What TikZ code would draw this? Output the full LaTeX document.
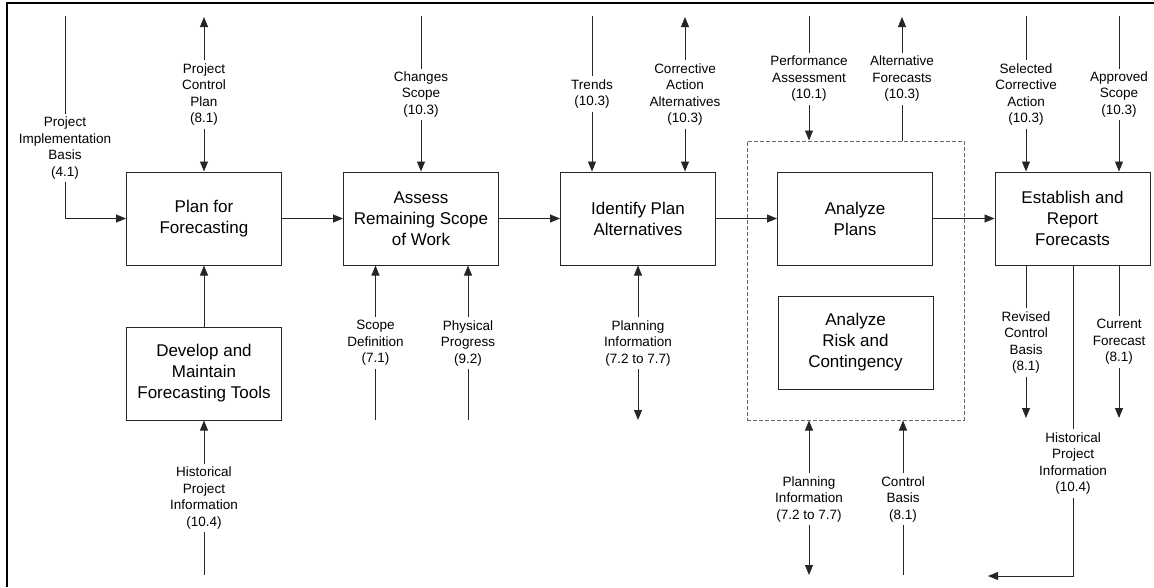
\documentclass[tikz,border=0pt]{standalone}
\usepackage{fontspec}
\setmainfont{Liberation Sans}
\usetikzlibrary{arrows.meta}
\begin{document}
\begin{tikzpicture}[x=1pt,y=-1pt,
  proc/.style={draw=black!85,line width=1pt,fill=white,align=center,
    minimum width=155pt,minimum height=93pt,inner sep=0pt,
    font=\fontsize{17}{21}\selectfont},
  lbl/.style={align=center,inner sep=3pt,font=\fontsize{13.5}{16.5}\selectfont},
  flow/.style={draw=black!85,line width=0.9pt},
  arr/.style={flow,-{Triangle[length=10pt,width=8pt]}},
  darr/.style={flow,{Triangle[length=10pt,width=8pt]}-{Triangle[length=10pt,width=8pt]}},
  grpbox/.style={draw=black!60,line width=1pt,dash pattern=on 4pt off 2pt,
    minimum width=217pt,minimum height=279pt,inner sep=0pt}]
\useasboundingbox (0,0) rectangle (1154,587);
% frame (top and left edges)
\draw[line width=1.6pt] (7,587) -- (7,3) -- (1154,3);

% dashed group around the two analysis steps
\node[grpbox] (grp) at (855.5,280.5) {};

% process boxes
\node[proc] (plan)  at (204,218.5)   {Plan for\\Forecasting};
\node[proc] (asses) at (421,218.5)   {Assess\\Remaining Scope\\of Work};
\node[proc] (ident) at (638,218.5)   {Identify Plan\\Alternatives};
\node[proc] (ap)    at (855,218.5)   {Analyze\\Plans};
\node[proc] (est)   at (1072.5,218.5){Establish and\\Report\\Forecasts};
\node[proc] (dev)   at (204,373.5)   {Develop and\\Maintain\\Forecasting Tools};
\node[proc] (risk)  at (855.5,342.5) {Analyze\\Risk and\\Contingency};

% main flow
\draw[arr] (plan.east) -- (asses.west);
\draw[arr] (asses.east) -- (ident.west);
\draw[arr] (ident.east) -- (ap.west);
\draw[arr] (ap.east) -- (est.west);
\draw[arr] (dev.north) -- (plan.south);

% labels
\node[lbl] (pib) at (65,148)    {Project\\Implementation\\Basis\\(4.1)};
\node[lbl] (pcp) at (204,94.5)  {Project\\Control\\Plan\\(8.1)};
\node[lbl] (chs) at (421,94.5)  {Changes\\Scope\\(10.3)};
\node[lbl] (trd) at (592,94)    {Trends\\(10.3)};
\node[lbl] (caa) at (685,94.5)  {Corrective\\Action\\Alternatives\\(10.3)};
\node[lbl] (pfa) at (809,79)    {Performance\\Assessment\\(10.1)};
\node[lbl] (alf) at (902,79)    {Alternative\\Forecasts\\(10.3)};
\node[lbl] (sca) at (1026,94.5) {Selected\\Corrective\\Action\\(10.3)};
\node[lbl] (aps) at (1119,94.5) {Approved\\Scope\\(10.3)};
\node[lbl] (scd) at (375.5,343) {Scope\\Definition\\(7.1)};
\node[lbl] (php) at (468,343)   {Physical\\Progress\\(9.2)};
\node[lbl] (pim) at (638,343)   {Planning\\Information\\(7.2 to 7.7)};
\node[lbl] (hpl) at (204,498)   {Historical\\Project\\Information\\(10.4)};
\node[lbl] (rcb) at (1026,342.5){Revised\\Control\\Basis\\(8.1)};
\node[lbl] (cfc) at (1119,342)  {Current\\Forecast\\(8.1)};
\node[lbl] (hpr) at (1073,463.5){Historical\\Project\\Information\\(10.4)};
\node[lbl] (pib2) at (809,499)  {Planning\\Information\\(7.2 to 7.7)};
\node[lbl] (ctb) at (903,499)   {Control\\Basis\\(8.1)};

% free ends of the connectors
\coordinate (pibT) at (65,16);
\coordinate (pcpT) at (204,17);
\coordinate (chsT) at (421,16);
\coordinate (trdT) at (592,16);
\coordinate (caaT) at (685,17);
\coordinate (pfaT) at (809,16);
\coordinate (alfT) at (902,17);
\coordinate (scaT) at (1026,16);
\coordinate (apsT) at (1119,16);
\coordinate (scdB) at (375.5,420);
\coordinate (phpB) at (468,420);
\coordinate (pimB) at (638,420);
\coordinate (hplB) at (204,575);
\coordinate (rcbB) at (1026,418);
\coordinate (cfcB) at (1119,418);
\coordinate (hprE) at (988,576);
\coordinate (pibB) at (809,575);
\coordinate (ctbB) at (903,575);

% inputs, controls and outputs
\draw[flow] (pibT) -- (pib.north);
\draw[arr]  (pib.south) |- (plan.west);
\draw[arr]  (pcp.north) -- (pcpT);
\draw[arr]  (pcp.south) -- (plan.north);
\draw[flow] (chsT) -- (chs.north);
\draw[arr]  (chs.south) -- (asses.north);
\draw[flow] (trdT) -- (trd.north);
\draw[arr]  (trd.south) -- (trd.south |- ident.north);
\draw[arr]  (caa.north) -- (caaT);
\draw[arr]  (caa.south) -- (caa.south |- ident.north);
\draw[flow] (pfaT) -- (pfa.north);
\draw[arr]  (pfa.south) -- (pfa.south |- grp.north);
\draw[arr]  (alf.north) -- (alfT);
\draw[flow] (alf.south) -- (alf.south |- grp.north);
\draw[flow] (scaT) -- (sca.north);
\draw[arr]  (sca.south) -- (sca.south |- est.north);
\draw[flow] (apsT) -- (aps.north);
\draw[arr]  (aps.south) -- (aps.south |- est.north);
\draw[arr]  (scd.north) -- (scd.north |- asses.south);
\draw[flow] (scd.south) -- (scdB);
\draw[arr]  (php.north) -- (php.north |- asses.south);
\draw[flow] (php.south) -- (phpB);
\draw[arr]  (pim.north) -- (ident.south);
\draw[arr]  (pim.south) -- (pimB);
\draw[arr]  (hpl.north) -- (dev.south);
\draw[flow] (hpl.south) -- (hplB);
\draw[flow] (rcb.north |- est.south) -- (rcb.north);
\draw[arr]  (rcb.south) -- (rcbB);
\draw[flow] (cfc.north |- est.south) -- (cfc.north);
\draw[arr]  (cfc.south) -- (cfcB);
\draw[flow] (hpr.north |- est.south) -- (hpr.north);
\draw[arr]  (hpr.south) |- (hprE);
\draw[arr]  (pib2.north) -- (pib2.north |- grp.south);
\draw[arr]  (pib2.south) -- (pibB);
\draw[arr]  (ctb.north) -- (ctb.north |- grp.south);
\draw[flow] (ctb.south) -- (ctbB);
\end{tikzpicture}
\end{document}
